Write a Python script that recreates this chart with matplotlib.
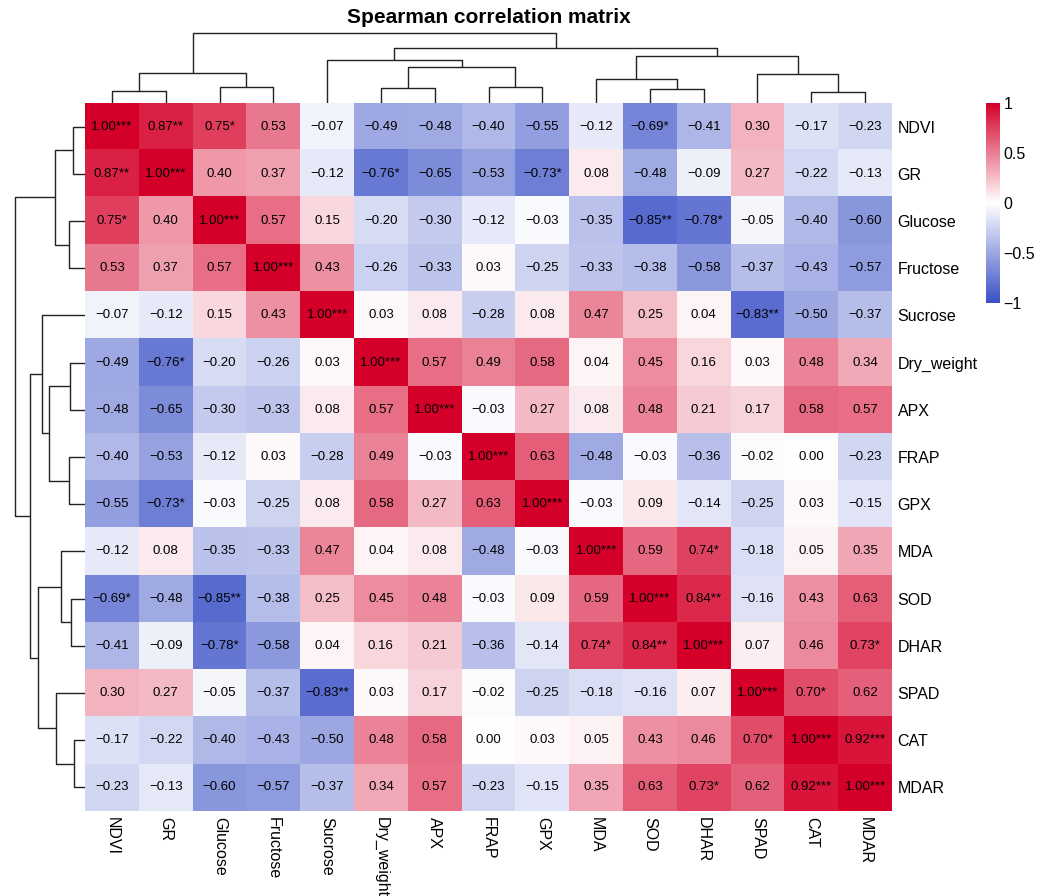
import numpy as np
import matplotlib
matplotlib.use('Agg')
import matplotlib.pyplot as plt
from matplotlib.colors import LinearSegmentedColormap

plt.rcParams['font.family'] = ['Liberation Sans', 'DejaVu Sans']
plt.rcParams['axes.unicode_minus'] = True

# variables in clustered order
labels = ['NDVI', 'GR', 'Glucose', 'Fructose', 'Sucrose', 'Dry_weight', 'APX',
          'FRAP', 'GPX', 'MDA', 'SOD', 'DHAR', 'SPAD', 'CAT', 'MDAR']

corr = np.array([
    [1.00, 0.87, 0.75, 0.53, -0.07, -0.49, -0.48, -0.40, -0.55, -0.12, -0.69, -0.41, 0.30, -0.17, -0.23],
    [0.87, 1.00, 0.40, 0.37, -0.12, -0.76, -0.65, -0.53, -0.73, 0.08, -0.48, -0.09, 0.27, -0.22, -0.13],
    [0.75, 0.40, 1.00, 0.57, 0.15, -0.20, -0.30, -0.12, -0.03, -0.35, -0.85, -0.78, -0.05, -0.40, -0.60],
    [0.53, 0.37, 0.57, 1.00, 0.43, -0.26, -0.33, 0.03, -0.25, -0.33, -0.38, -0.58, -0.37, -0.43, -0.57],
    [-0.07, -0.12, 0.15, 0.43, 1.00, 0.03, 0.08, -0.28, 0.08, 0.47, 0.25, 0.04, -0.83, -0.50, -0.37],
    [-0.49, -0.76, -0.20, -0.26, 0.03, 1.00, 0.57, 0.49, 0.58, 0.04, 0.45, 0.16, 0.03, 0.48, 0.34],
    [-0.48, -0.65, -0.30, -0.33, 0.08, 0.57, 1.00, -0.03, 0.27, 0.08, 0.48, 0.21, 0.17, 0.58, 0.57],
    [-0.40, -0.53, -0.12, 0.03, -0.28, 0.49, -0.03, 1.00, 0.63, -0.48, -0.03, -0.36, -0.02, 0.00, -0.23],
    [-0.55, -0.73, -0.03, -0.25, 0.08, 0.58, 0.27, 0.63, 1.00, -0.03, 0.09, -0.14, -0.25, 0.03, -0.15],
    [-0.12, 0.08, -0.35, -0.33, 0.47, 0.04, 0.08, -0.48, -0.03, 1.00, 0.59, 0.74, -0.18, 0.05, 0.35],
    [-0.69, -0.48, -0.85, -0.38, 0.25, 0.45, 0.48, -0.03, 0.09, 0.59, 1.00, 0.84, -0.16, 0.43, 0.63],
    [-0.41, -0.09, -0.78, -0.58, 0.04, 0.16, 0.21, -0.36, -0.14, 0.74, 0.84, 1.00, 0.07, 0.46, 0.73],
    [0.30, 0.27, -0.05, -0.37, -0.83, 0.03, 0.17, -0.02, -0.25, -0.18, -0.16, 0.07, 1.00, 0.70, 0.62],
    [-0.17, -0.22, -0.40, -0.43, -0.50, 0.48, 0.58, 0.00, 0.03, 0.05, 0.43, 0.46, 0.70, 1.00, 0.92],
    [-0.23, -0.13, -0.60, -0.57, -0.37, 0.34, 0.57, -0.23, -0.15, 0.35, 0.63, 0.73, 0.62, 0.92, 1.00],
])

# number of significance stars per cell
stars = np.array([
    [3, 2, 1, 0, 0, 0, 0, 0, 0, 0, 1, 0, 0, 0, 0],
    [2, 3, 0, 0, 0, 1, 0, 0, 1, 0, 0, 0, 0, 0, 0],
    [1, 0, 3, 0, 0, 0, 0, 0, 0, 0, 2, 1, 0, 0, 0],
    [0, 0, 0, 3, 0, 0, 0, 0, 0, 0, 0, 0, 0, 0, 0],
    [0, 0, 0, 0, 3, 0, 0, 0, 0, 0, 0, 0, 2, 0, 0],
    [0, 1, 0, 0, 0, 3, 0, 0, 0, 0, 0, 0, 0, 0, 0],
    [0, 0, 0, 0, 0, 0, 3, 0, 0, 0, 0, 0, 0, 0, 0],
    [0, 0, 0, 0, 0, 0, 0, 3, 0, 0, 0, 0, 0, 0, 0],
    [0, 1, 0, 0, 0, 0, 0, 0, 3, 0, 0, 0, 0, 0, 0],
    [0, 0, 0, 0, 0, 0, 0, 0, 0, 3, 0, 1, 0, 0, 0],
    [1, 0, 2, 0, 0, 0, 0, 0, 0, 0, 3, 2, 0, 0, 0],
    [0, 0, 1, 0, 0, 0, 0, 0, 0, 1, 2, 3, 0, 0, 1],
    [0, 0, 0, 0, 2, 0, 0, 0, 0, 0, 0, 0, 3, 1, 0],
    [0, 0, 0, 0, 0, 0, 0, 0, 0, 0, 0, 0, 1, 3, 3],
    [0, 0, 0, 0, 0, 0, 0, 0, 0, 0, 0, 1, 0, 3, 3],
])

# dendrogram merges (child a, child b, height); ids >= 15 are earlier merges
merges = [
    (0, 1, 12.4), (2, 3, 16.0), (15, 16, 30.0),
    (5, 6, 15.4), (7, 8, 16.0), (18, 19, 35.7), (4, 20, 42.7),
    (10, 11, 14.4), (9, 22, 23.7), (13, 14, 11.4), (12, 24, 29.4),
    (23, 25, 46.7), (21, 26, 55.4), (17, 27, 70.0),
]

n = len(labels)
cmap = LinearSegmentedColormap.from_list('bwr2', ['#3A50C6', '#FFFFFF', '#D5002A'])

fig = plt.figure(figsize=(10.51, 8.96), dpi=100)
ax = fig.add_axes([0.0809, 0.0949, 0.7678, 0.7902])
ax_top = fig.add_axes([0.0809, 0.885, 0.7678, 0.0815])
ax_left = fig.add_axes([0.0114, 0.0949, 0.0695, 0.7902])
cax = fig.add_axes([0.9377, 0.6618, 0.0133, 0.2232])

im = ax.imshow(corr, cmap=cmap, vmin=-1, vmax=1, aspect='auto',
               extent=(0, n, n, 0), interpolation='nearest')
for i in range(n):
    for j in range(n):
        txt = f'{corr[i, j]:.2f}'.replace('-', '\u2212') + '*' * stars[i, j]
        ax.text(j + 0.5, i + 0.5, txt, ha='center', va='center', fontsize=9.5, color='black')

ax.set_xlim(0, n)
ax.set_ylim(n, 0)
ax.set_xticks(np.arange(n) + 0.5)
ax.set_xticklabels(labels, rotation=270, fontsize=11.5)
ax.set_yticks(np.arange(n) + 0.5)
ax.set_yticklabels(labels, fontsize=11.5)
ax.yaxis.tick_right()
ax.tick_params(axis='both', length=0)
ax.tick_params(axis='x', pad=4)
ax.tick_params(axis='y', pad=4)
for s in ax.spines.values():
    s.set_visible(False)

# dendrogram
pos = {i: i + 0.5 for i in range(n)}
hgt = {i: 0.0 for i in range(n)}
segs = []
for k, (a, b, h) in enumerate(merges):
    xa, xb = pos[a], pos[b]
    segs.append(([xa, xa, xb, xb], [hgt[a], h, h, hgt[b]]))
    pos[n + k] = (xa + xb) / 2
    hgt[n + k] = h

for xs, hs in segs:
    ax_top.plot(xs, hs, color='#222222', lw=1.0, solid_capstyle='butt')
    ax_left.plot(hs, xs, color='#222222', lw=1.0, solid_capstyle='butt')
ax_top.set_xlim(0, n)
ax_top.set_ylim(0, 73)
ax_left.set_ylim(n, 0)
ax_left.set_xlim(73, 0)
for a in (ax_top, ax_left):
    a.axis('off')

fig.text(0.4655, 0.980, 'Spearman correlation matrix', ha='center', va='center',
         fontsize=15, fontweight='bold')

cb = fig.colorbar(im, cax=cax, ticks=[-1, -0.5, 0, 0.5, 1])
cb.ax.set_yticklabels(['\u22121', '\u22120.5', '0', '0.5', '1'])
cb.ax.tick_params(length=0, labelsize=11.5, pad=3)
cb.outline.set_visible(False)

plt.savefig('out.png', dpi=100)
